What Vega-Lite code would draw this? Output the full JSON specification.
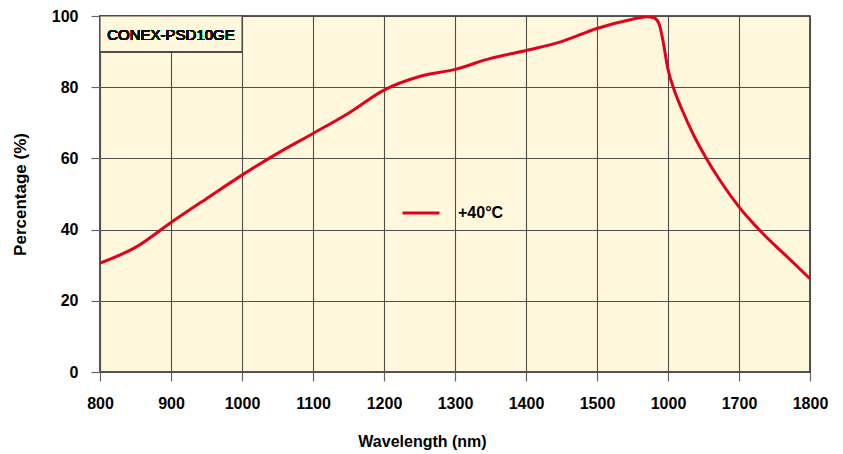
{
  "$schema": "https://vega.github.io/schema/vega-lite/v6.json",
  "width": 710,
  "height": 356,
  "autosize": "none",
  "padding": {"left": 100, "top": 16, "right": 33, "bottom": 82},
  "background": "white",
  "config": {
    "view": {"fill": "#fff8dc", "stroke": "#222", "strokeWidth": 1.5},
    "font": "Liberation Sans",
    "axis": {
      "grid": true,
      "labelFont": "Liberation Sans",
      "labelFontWeight": "bold",
      "labelFontSize": 16,
      "labelColor": "#000",
      "titleFont": "Liberation Sans",
      "titleFontWeight": "bold",
      "titleFontSize": 16,
      "titleColor": "#000",
      "gridColor": "#4d4d4d",
      "gridWidth": 1.1,
      "gridOpacity": 1,
      "tickColor": "#666",
      "tickSize": 9,
      "tickWidth": 1.2,
      "labelFlush": false,
      "labelBound": false,
      "labelOverlap": false
    }
  },
  "data": {
    "values": [
      {"wavelength": 800, "percentage": 30.6, "series": "+40°C"},
      {"wavelength": 850, "percentage": 35.0, "series": "+40°C"},
      {"wavelength": 900, "percentage": 42.0, "series": "+40°C"},
      {"wavelength": 950, "percentage": 48.7, "series": "+40°C"},
      {"wavelength": 1000, "percentage": 55.3, "series": "+40°C"},
      {"wavelength": 1050, "percentage": 61.4, "series": "+40°C"},
      {"wavelength": 1100, "percentage": 67.0, "series": "+40°C"},
      {"wavelength": 1150, "percentage": 72.7, "series": "+40°C"},
      {"wavelength": 1200, "percentage": 79.2, "series": "+40°C"},
      {"wavelength": 1250, "percentage": 83.0, "series": "+40°C"},
      {"wavelength": 1300, "percentage": 85.0, "series": "+40°C"},
      {"wavelength": 1350, "percentage": 88.1, "series": "+40°C"},
      {"wavelength": 1400, "percentage": 90.3, "series": "+40°C"},
      {"wavelength": 1450, "percentage": 92.8, "series": "+40°C"},
      {"wavelength": 1500, "percentage": 96.5, "series": "+40°C"},
      {"wavelength": 1550, "percentage": 99.1, "series": "+40°C"},
      {"wavelength": 1570, "percentage": 99.8, "series": "+40°C"},
      {"wavelength": 1580, "percentage": 99.5, "series": "+40°C"},
      {"wavelength": 1587, "percentage": 98.0, "series": "+40°C"},
      {"wavelength": 1592, "percentage": 94.0, "series": "+40°C"},
      {"wavelength": 1600, "percentage": 85.0, "series": "+40°C"},
      {"wavelength": 1610, "percentage": 78.5, "series": "+40°C"},
      {"wavelength": 1620, "percentage": 73.6, "series": "+40°C"},
      {"wavelength": 1635, "percentage": 67.0, "series": "+40°C"},
      {"wavelength": 1650, "percentage": 61.4, "series": "+40°C"},
      {"wavelength": 1675, "percentage": 53.3, "series": "+40°C"},
      {"wavelength": 1700, "percentage": 46.4, "series": "+40°C"},
      {"wavelength": 1725, "percentage": 40.7, "series": "+40°C"},
      {"wavelength": 1750, "percentage": 35.7, "series": "+40°C"},
      {"wavelength": 1775, "percentage": 31.0, "series": "+40°C"},
      {"wavelength": 1800, "percentage": 26.2, "series": "+40°C"}
    ]
  },
  "layer": [
    {
      "mark": {"type": "line", "interpolate": "monotone", "strokeWidth": 3, "clip": true},
      "encoding": {
        "x": {
          "field": "wavelength",
          "type": "quantitative",
          "title": "Wavelength (nm)",
          "scale": {"domain": [800, 1800], "nice": false, "zero": false},
          "axis": {
            "grid": true,
            "values": [800, 900, 1000, 1100, 1200, 1300, 1400, 1500, 1600, 1700, 1800],
            "format": "d",
            "labelExpr": "datum.value == 1600 ? '1000' : datum.label",
            "labelPadding": 14,
            "titlePadding": 22,
            "titleX": 322,
            "domain": false
          }
        },
        "y": {
          "field": "percentage",
          "type": "quantitative",
          "title": "Percentage (%)",
          "scale": {"domain": [0, 100], "nice": false},
          "axis": {
            "grid": true,
            "values": [0, 10, 20, 30, 40, 50, 60, 70, 80, 90, 100],
            "labelExpr": "datum.value % 20 == 0 ? datum.label : ''",
            "labelPadding": 13,
            "titlePadding": 22,
            "titleFontSize": 17,
            "domain": false
          }
        },
        "color": {
          "field": "series",
          "type": "nominal",
          "scale": {"range": ["#e2001a"]},
          "legend": {
            "title": null,
            "orient": "none",
            "legendX": 301,
            "legendY": 177,
            "symbolType": "stroke",
            "symbolSize": 1369,
            "symbolStrokeWidth": 3,
            "labelFont": "Liberation Sans",
            "labelFontWeight": "bold",
            "labelFontSize": 16,
            "labelColor": "#000",
            "labelOffset": 17
          }
        }
      }
    },
    {
      "mark": {"type": "rect", "fill": "#fff8dc", "stroke": "#4d4d4d", "strokeWidth": 1.1},
      "encoding": {
        "x": {"datum": 800, "type": "quantitative"},
        "x2": {"datum": 1000},
        "y": {"datum": 90, "type": "quantitative"},
        "y2": {"datum": 100}
      }
    },
    {
      "mark": {"type": "text", "font": "Liberation Sans", "fontSize": 15, "color": "#111", "align": "center", "baseline": "middle"},
      "encoding": {
        "x": {"datum": 900, "type": "quantitative"},
        "y": {"datum": 94.7, "type": "quantitative"},
        "text": {"value": "CONEX-PSD10GE"}
      }
    }
  ]
}
